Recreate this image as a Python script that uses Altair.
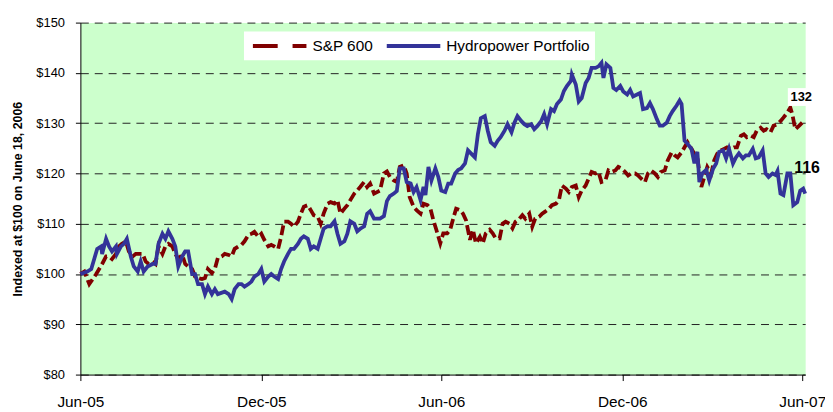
import altair as alt
import pandas as pd

FONT = "Liberation Sans, Arial, sans-serif"

START = "2005-06-01"
series_names = ["S&P 600", "Hydropower Portfolio"]
series_colors = ["#800000", "#333399"]

# S&P 600 (days after 2005-06-01, index value)
sp_days = [0, 4, 7, 9, 16, 19, 22, 26, 29, 32, 36, 39, 42, 46, 49, 53, 56, 59, 63, 66,
           69, 73, 76, 79, 83, 86, 89, 93, 96, 99, 103, 106, 109, 113, 116, 119, 123, 126, 129, 133,
           136, 139, 143, 146, 150, 153, 156, 160, 163, 166, 170, 173, 176, 180, 183, 186, 190, 193, 196, 200,
           203, 206, 210, 213, 216, 220, 223, 226, 230, 233, 236, 240, 243, 246, 250, 253, 257, 260, 263, 267,
           270, 273, 277, 280, 283, 287, 290, 293, 297, 300, 303, 307, 310, 313, 317, 320, 323, 327, 330, 333,
           337, 340, 344, 347, 351, 354, 357, 360, 364, 367, 371, 374, 377, 380, 384, 387, 390, 394, 397, 400,
           404, 407, 410, 414, 417, 420, 424, 427, 430, 434, 437, 440, 444, 447, 450, 454, 457, 460, 464, 467,
           470, 474, 477, 481, 484, 487, 491, 494, 497, 501, 504, 507, 511, 514, 517, 521, 524, 527, 531, 534,
           537, 541, 544, 547, 551, 554, 557, 561, 564, 567, 571, 574, 577, 581, 584, 587, 591, 594, 598, 601,
           604, 608, 611, 614, 618, 621, 624, 628, 631, 634, 638, 641, 644, 648, 651, 654, 658, 661, 664, 668,
           671, 674, 678, 681, 684, 688, 691, 694, 698, 701, 705, 708, 711, 715, 718, 720, 723, 727, 730]
sp_vals = [100, 100.5, 99, 98, 100, 101, 102, 103.5, 103.5, 103, 104, 105.5, 106, 106.5, 104.5, 103.5, 104, 104, 104, 102.5,
           102, 102.5, 102, 105.5, 104, 105.5, 106, 105.5, 104, 103, 103.8, 102, 101.5, 101, 99.5, 99.2, 99, 99.2, 101, 100.2,
           101, 103.2, 103.5, 104, 103.8, 103.5, 105, 105.5, 105.8, 106.5, 107.8, 108, 108.4, 107.4, 108, 106.8, 105.5, 105.8, 105.5, 105,
           107.4, 110.4, 110.4, 110, 109.4, 110.4, 112, 113.4, 113.7, 112.7, 111.7, 111.4, 110, 112, 114, 114.3, 114, 114.7, 112, 113,
           113.7, 114.7, 116, 116.6, 117.3, 118.3, 117.3, 118, 116, 116.3, 116.6, 120, 120.4, 119.3, 118.6, 118.3, 121.3, 121.6, 120, 115.3,
           113.4, 112.7, 112, 114, 113.7, 113, 110.7, 108.8, 106.1, 108.1, 108.1, 108.8, 111, 113, 112.7, 112, 110.7, 106.8, 108.8, 106.1,
           107.4, 106.1, 108.1, 108.8, 108.1, 107.1, 107.1, 110, 110.4, 110, 109.1, 110.4, 111, 111.7, 111, 112, 109.4, 111, 111.4, 112,
           112.4, 113, 113.7, 114, 114.7, 117.6, 117, 116.3, 117.3, 117.6, 115.3, 116.6, 117.6, 119, 120.3, 120, 120.3, 118.3, 118.6, 120.6,
           120.3, 120.6, 121.3, 121, 120.3, 119.6, 120, 120, 119.6, 119, 118.3, 120, 120.6, 120, 119.3, 120.3, 120.6, 122.6, 124.2, 123.6,
           123.2, 124.2, 125.2, 126.2, 124.9, 123.9, 123.2, 117.3, 119.3, 121.3, 120, 122.6, 123.9, 124.6, 124.9, 125.2, 124.9, 125.2, 125.2, 127.5,
           127.8, 127.2, 127.5, 127.2, 128.5, 129.1, 128.5, 128.8, 128.2, 129.5, 129.8, 130.4, 131.1, 132.1, 133.1, 131.8, 128.8, 129.5, 130.1]

# Hydropower Portfolio (days after 2005-06-01, index value)
hp_days = [0, 7, 11, 14, 17, 21, 22, 26, 29, 32, 36, 37, 41, 44, 47, 51, 54, 58, 61, 64,
           68, 73, 76, 79, 83, 86, 89, 93, 96, 99, 103, 106, 109, 113, 116, 119, 123, 126, 129, 133,
           136, 139, 146, 150, 153, 156, 160, 163, 166, 170, 173, 176, 180, 183, 186, 190, 193, 196, 200, 203,
           206, 210, 213, 216, 220, 223, 226, 230, 233, 236, 240, 243, 246, 250, 253, 257, 260, 263, 267, 270,
           273, 277, 280, 283, 287, 290, 293, 297, 300, 303, 307, 310, 313, 317, 320, 323, 327, 330, 334, 337,
           340, 344, 347, 349, 352, 355, 359, 362, 365, 369, 372, 375, 379, 382, 385, 389, 392, 395, 399, 402,
           405, 409, 412, 415, 419, 422, 425, 429, 432, 436, 439, 442, 446, 449, 452, 456, 459, 462, 466, 469,
           472, 476, 479, 482, 486, 489, 492, 496, 497, 501, 504, 507, 511, 514, 517, 521, 524, 527, 529, 532,
           536, 539, 542, 546, 549, 553, 556, 559, 563, 566, 569, 573, 576, 579, 583, 586, 589, 593, 596, 599,
           603, 606, 608, 611, 614, 618, 621, 624, 626, 629, 633, 636, 640, 643, 646, 650, 653, 656, 660, 663,
           666, 670, 673, 676, 680, 683, 686, 690, 693, 696, 700, 703, 705, 708, 711, 715, 718, 721, 725, 728,
           731, 733]
hp_vals = [100, 100.5, 101, 103, 105, 105.5, 104, 107, 105.5, 104.5, 105.5, 104, 105.5, 106, 107, 103.5, 101.5, 100.5, 102.5, 100.5,
           101.5, 102, 102, 106, 108, 107, 108.5, 107, 105.5, 101.5, 103.5, 104.5, 104.5, 100, 100, 98, 98, 96, 97.5, 96,
           97, 96, 96.5, 96, 95, 97, 98, 98, 97.5, 98, 98.5, 99.5, 100, 101, 98.5, 99.5, 100, 99.5, 99, 101,
           102.5, 104, 105, 105, 106, 107, 107.5, 107, 105, 105.5, 105, 107, 109, 109.5, 109.5, 110.5, 108, 106, 106.5, 108,
           110.5, 110, 108.5, 109, 109.5, 112, 112.5, 111, 111, 111, 111.5, 114.5, 115.5, 116, 116.5, 121, 121, 118.3, 118, 116.3,
           117.3, 114.7, 117.3, 115.7, 121.3, 118.6, 121, 119.3, 116.6, 116.3, 118, 118, 120, 120.7, 121, 122, 124.6, 124, 123.2, 127.8,
           131, 131.4, 128.5, 126.2, 125.5, 126.5, 127.2, 128.5, 129.8, 128.2, 130.1, 131.4, 130.4, 129.8, 129.4, 129.8, 128.8, 129.4, 130.4, 131.8,
           129.8, 132.8, 132.4, 133.8, 134.7, 136.4, 137.4, 138.4, 139.7, 137.7, 134.3, 135, 138, 139, 141, 141, 141.3, 142, 139, 141.7,
           141, 137, 136.6, 137.4, 136.3, 135.7, 136.6, 135.3, 135.7, 136, 132.8, 133, 134, 132.8, 130.8, 129.5, 129.5, 130.1, 131.4, 132.4,
           133.5, 134.5, 133.8, 126.5, 125.9, 124.9, 122, 124.3, 118.3, 120, 120.7, 118.6, 121, 122, 124.3, 124.6, 123, 124.9, 122, 123.2,
           124, 123, 123.6, 123.6, 124.9, 123, 123.2, 124.6, 120, 119.3, 120, 119.7, 120.5, 116, 115.7, 120, 120, 113.7, 114.3, 116.6,
           117, 116]

y_ticks = [80, 90, 100, 110, 120, 130, 140, 150]
x_tick_months = [(2005, 6), (2005, 12), (2006, 6), (2006, 12), (2007, 6)]

end_label_text = ["132", "116"]
end_label_days = [729, 735]
end_label_vals = [135.2, 121.1]
end_label_sizes = [13, 16]

start = pd.Timestamp(START)
sp = pd.DataFrame({"date": start + pd.to_timedelta(sp_days, unit="D"),
                   "value": sp_vals, "series": series_names[0]})
hp = pd.DataFrame({"date": start + pd.to_timedelta(hp_days, unit="D"),
                   "value": hp_vals, "series": series_names[1]})
labels = pd.DataFrame({"date": start + pd.to_timedelta(end_label_days, unit="D"),
                       "value": end_label_vals, "text": end_label_text,
                       "size": end_label_sizes})

x_enc = alt.X(
    "date:T",
    scale=alt.Scale(domain=[alt.DateTime(year=2005, month=6, date=1),
                            alt.DateTime(year=2007, month=6, date=4)]),
    axis=alt.Axis(
        title=None,
        values=[alt.DateTime(year=y, month=m, date=1) for y, m in x_tick_months],
        format="%b-%y", grid=False, tickSize=6, labelPadding=14,
        labelFontSize=15.5, labelFont=FONT, labelColor="black",
        domainColor="black", tickColor="black", labelFlush=False,
    ),
)
y_enc = alt.Y(
    "value:Q",
    scale=alt.Scale(domain=[80, 150], nice=False, zero=False),
    axis=alt.Axis(
        title="Indexed at $100 on June 18, 2006",
        values=y_ticks, format="$.0f",
        grid=True, gridDash=[8, 6], gridColor="#222222", gridWidth=1,
        tickSize=5, labelPadding=11, labelFontSize=13, labelFont=FONT,
        labelColor="black", domainColor="black", tickColor="black",
        titleFont=FONT, titleFontSize=12.5, titleFontWeight="bold", titleColor="black",
        titleAngle=270, titleX=-63, titleY=177.5, titleAlign="center",
        titleBaseline="middle",
    ),
)
color_enc = alt.Color(
    "series:N",
    scale=alt.Scale(domain=series_names, range=series_colors),
    legend=alt.Legend(
        title=None, orient="none", legendX=165, legendY=9, direction="horizontal",
        fillColor="white", padding=5, symbolType="stroke", symbolSize=2916,
        symbolStrokeWidth=4, clipHeight=19, symbolOffset=2,
        symbolDash=alt.ExprRef("datum.value == 'S&P 600' ? [25, 15] : [1, 0]"),
        labelFontSize=15.5, labelFont=FONT, labelColor="black", labelOffset=4,
        labelLimit=400, columnPadding=9,
    ),
)

red = alt.Chart(sp).mark_line(strokeWidth=3.8, strokeDash=[10, 4]).encode(
    x=x_enc, y=y_enc, color=color_enc)
blue = alt.Chart(hp).mark_line(strokeWidth=3.8).encode(
    x=x_enc, y=y_enc, color=color_enc)

box = alt.Chart(labels).transform_filter(alt.datum.text == "132").mark_rect(
    color="white", width=27, height=18).encode(x="date:T", y="value:Q")
txt = alt.Chart(labels).mark_text(
    font=FONT, fontWeight="bold", color="black", align="center", baseline="middle"
).encode(x="date:T", y="value:Q", text="text:N",
         size=alt.Size("size:Q", scale=None, legend=None))

chart = alt.layer(red, blue, box, txt).properties(
    width=731, height=355,
    autosize=alt.AutoSizeParams(type="none"),
    padding={"left": 73, "top": 13, "right": 20, "bottom": 36},
).configure_view(fill="#CCFFCC", stroke="transparent")

chart.save("out.html", embed_options={"renderer": "svg", "actions": False})
